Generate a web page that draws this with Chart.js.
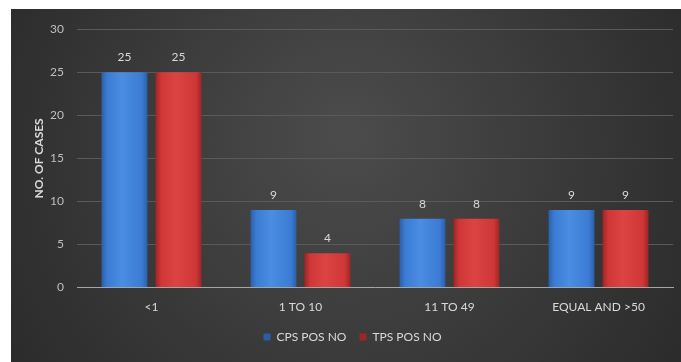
<!DOCTYPE html>
<html>
<head>
<meta charset="utf-8">
<script src="https://cdn.jsdelivr.net/npm/chart.js@4"></script>
<style>
  html, body { margin: 0; padding: 0; background: #fff; }
  #wrap { position: absolute; left: 11px; top: 9px; width: 670px; height: 353px; }
</style>
</head>
<body>
<div id="wrap"><canvas id="casesChart"></canvas></div>
<script>
// 구간별 건수
let categories = ["<1", "1 TO 10", "11 TO 49", "EQUAL AND >50"];
let cpsPosNo = [25, 9, 8, 9];
let tpsPosNo = [25, 4, 8, 9];
let yTicks = [0, 5, 10, 15, 20, 25, 30];

let CAT_PCT = 0.725;
let BAR_PCT = 0.85;

// 막대 좌우 음영 (원통 느낌)
let barShade = function(dark, mid, light){
    return function(context){
        let chart = context.chart;
        let xs = chart.scales.x;
        if(!xs || context.dataIndex === undefined) return mid;
        let w = xs.width / categories.length;
        let slot = w * CAT_PCT / 2;
        let center = xs.getPixelForValue(context.dataIndex);
        let left = center - w * CAT_PCT / 2 + context.datasetIndex * slot + slot * (1 - BAR_PCT) / 2;
        let right = left + slot * BAR_PCT;
        if(!isFinite(left) || !isFinite(right)) return mid;
        let g = chart.ctx.createLinearGradient(left, 0, right, 0);
        g.addColorStop(0, dark);
        g.addColorStop(0.12, mid);
        g.addColorStop(0.45, light);
        g.addColorStop(0.88, mid);
        g.addColorStop(1, dark);
        return g;
    };
};

// 배경 (방사형 그라데이션)
let bgPlugin = {
    id: "bgPlugin",
    beforeDraw: function(chart){
        let ctx = chart.ctx;
        let w = chart.width, h = chart.height;
        ctx.save();
        let g = ctx.createRadialGradient(w * 0.5, h * 0.35, 10, w * 0.5, h * 0.45, w * 0.6);
        g.addColorStop(0, "#4b4b4b");
        g.addColorStop(1, "#2a2a2a");
        ctx.fillStyle = g;
        ctx.fillRect(0, 0, w, h);
        ctx.restore();
    }
};

// 막대 위 값 표시
let valuePlugin = {
    id: "valuePlugin",
    afterDatasetsDraw: function(chart){
        let ctx = chart.ctx;
        ctx.save();
        ctx.font = "12px Lato";
        ctx.fillStyle = "#d9d9d9";
        ctx.textAlign = "center";
        ctx.textBaseline = "bottom";
        chart.data.datasets.forEach(function(ds, i){
            chart.getDatasetMeta(i).data.forEach(function(bar, j){
                ctx.fillText(ds.data[j], bar.x, bar.y - 9);
            });
        });
        ctx.restore();
    }
};

let renderGroupedBarChart = function(component){
    let ctx = document.querySelector(component).getContext("2d");
    let myChart = new Chart(ctx, {
        type: "bar",
        data: {
            labels: categories,
            datasets: [{
                label: "CPS POS NO",
                data: cpsPosNo,
                backgroundColor: barShade("#2a5fa8", "#3b7bd4", "#4a8de2"),
                borderWidth: 0
            },{
                label: "TPS POS NO",
                data: tpsPosNo,
                backgroundColor: barShade("#9e2525", "#cf3636", "#dc4444"),
                borderWidth: 0
            }]
        },
        options: {
            responsive: true,
            maintainAspectRatio: false,
            animation: false,
            categoryPercentage: CAT_PCT,
            barPercentage: BAR_PCT,
            layout: { padding: { left: 21, right: 8, top: 3, bottom: 9 } },
            plugins: {
                legend: {
                    position: "bottom",
                    labels: {
                        color: "#d9d9d9",
                        font: { family: "Lato", size: 12 },
                        boxWidth: 7,
                        boxHeight: 7,
                        padding: 13
                    }
                },
                tooltip: { enabled: false }
            },
            scales: {
                x: {
                    grid: { display: false },
                    border: { color: "#a6a6a6", width: 1 },
                    ticks: { color: "#d9d9d9", font: { family: "Lato", size: 12 }, padding: 4 }
                },
                y: {
                    min: 0,
                    max: 30,
                    afterBuildTicks: function(axis){
                        axis.ticks = yTicks.map(function(v){ return { value: v }; });
                    },
                    afterFit: function(axis){
                        axis.width = 45;
                    },
                    grid: { color: "#5a5a5a", drawTicks: false },
                    border: { display: false },
                    ticks: { color: "#bfbfbf", font: { family: "Lato", size: 12 }, padding: 13 },
                    title: {
                        display: true,
                        text: "NO. OF CASES",
                        color: "#d9d9d9",
                        font: { family: "Lato", size: 12, weight: "bold" },
                        padding: 0
                    }
                }
            }
        },
        plugins: [bgPlugin, valuePlugin]
    });
};

renderGroupedBarChart("#casesChart");
</script>
</body>
</html>
